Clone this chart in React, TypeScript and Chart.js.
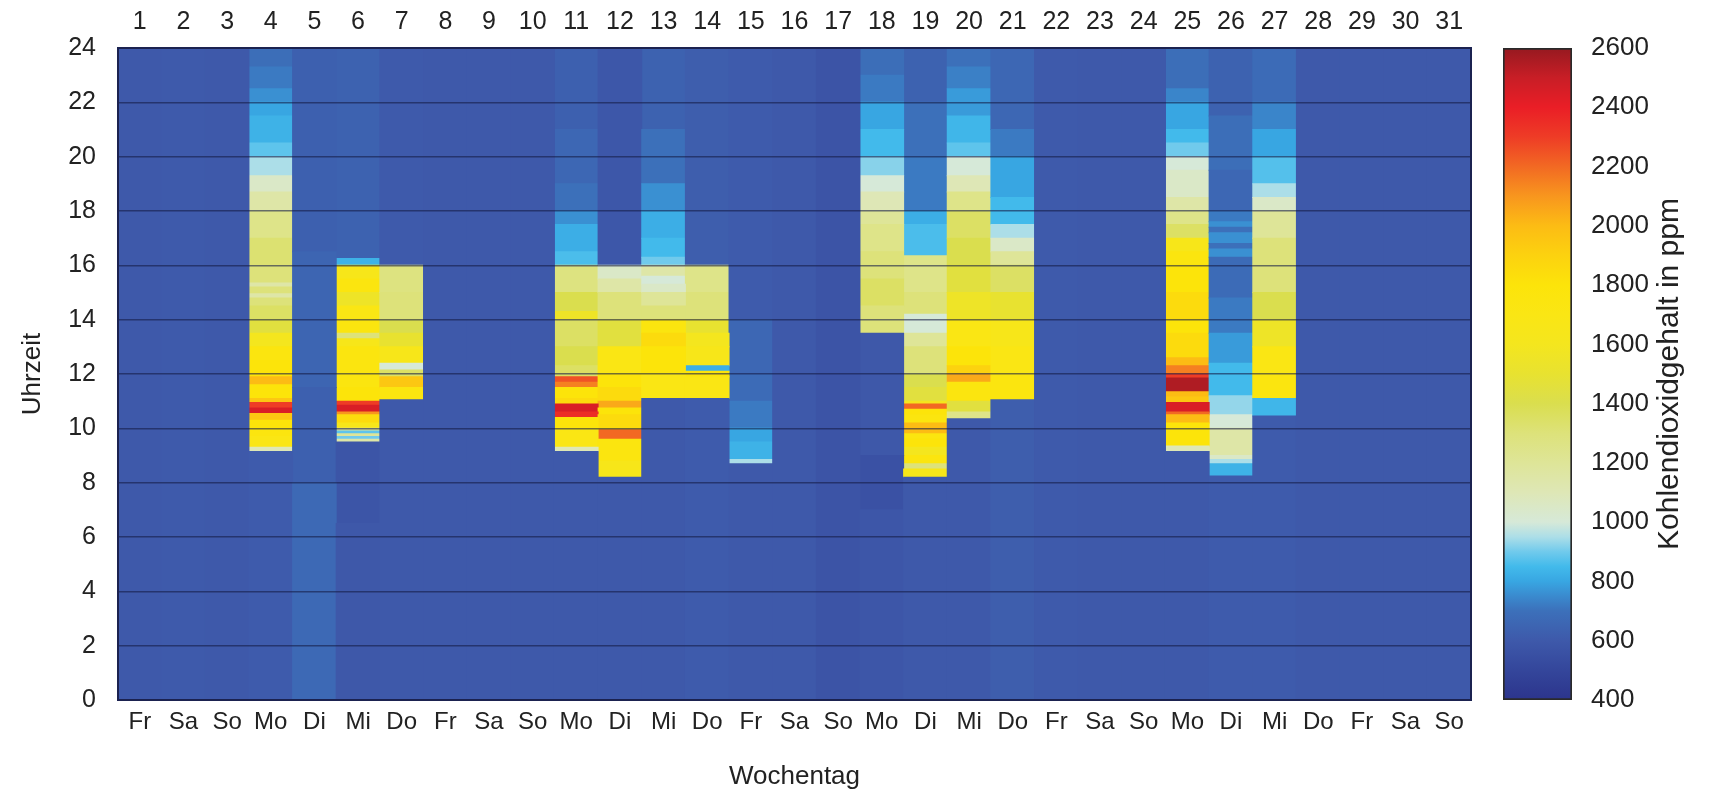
import React, { useEffect, useRef } from "react";
import { Chart, registerables } from "chart.js";

Chart.register(...registerables);

// ---------- DATA ----------
const DAY_NUMBERS = ["1","2","3","4","5","6","7","8","9","10","11","12","13","14","15","16","17","18","19","20","21","22","23","24","25","26","27","28","29","30","31"];
const WEEKDAYS = ["Fr","Sa","So","Mo","Di","Mi","Do","Fr","Sa","So","Mo","Di","Mi","Do","Fr","Sa","So","Mo","Di","Mi","Do","Fr","Sa","So","Mo","Di","Mi","Do","Fr","Sa","So"];
const HOUR_TICKS = [0, 2, 4, 6, 8, 10, 12, 14, 16, 18, 20, 22, 24];
const PPM_TICKS = [400, 600, 800, 1000, 1200, 1400, 1600, 1800, 2000, 2200, 2400, 2600];

// Each day: list of [untilHour, ppm]; the value holds from the previous boundary (or 0 h) up to untilHour.
const DAY_01 = [[24, 600]];
const DAY_02 = [[24, 605]];
const DAY_03 = [[24, 600]];
const DAY_04 = [[9.15, 610],[9.3, 1100],[9.7, 1700],[10.0, 1750],[10.3, 1800],[10.55, 1950],[10.75, 2450],[10.95, 2300],[11.1, 1950],[11.6, 1800],[11.9, 2000],[12.5, 1800],[13.0, 1750],[13.5, 1600],[14.0, 1450],[14.5, 1350],[14.8, 1300],[14.95, 1150],[15.2, 1300],[15.35, 1150],[16.0, 1300],[17.0, 1320],[18.0, 1250],[18.7, 1150],[19.3, 1050],[20.0, 950],[20.5, 880],[21.5, 830],[22.0, 800],[22.5, 760],[23.3, 720],[24, 690]];
const DAY_05 = [[8, 670],[11.5, 630],[16.5, 650],[24, 630]];
const DAY_06 = [[6.5, 595],[9.5, 580],[9.6, 1150],[9.7, 900],[9.8, 1200],[9.9, 880],[10.0, 1200],[10.2, 1650],[10.5, 1850],[10.6, 2100],[10.85, 2450],[11.0, 2300],[11.5, 1800],[12.0, 1750],[13.0, 1750],[13.3, 1650],[13.5, 1300],[14.0, 1750],[14.5, 1700],[15.0, 1550],[15.5, 1750],[16.0, 1650],[16.25, 830],[24, 640]];
const DAY_07 = [[11.05, 600],[11.5, 1750],[11.9, 1950],[12.15, 1350],[12.4, 1000],[13.0, 1650],[13.5, 1500],[14.0, 1400],[15.0, 1300],[16.0, 1280],[24, 605]];
const DAY_08 = [[24, 600]];
const DAY_09 = [[24, 600]];
const DAY_10 = [[24, 600]];
const DAY_11 = [[9.15, 600],[9.3, 1100],[10.0, 1700],[10.4, 1800],[10.6, 2350],[10.9, 2450],[11.1, 1850],[11.5, 1800],[11.7, 2150],[11.9, 2250],[12.3, 1350],[13.0, 1400],[14.0, 1350],[14.3, 1550],[15.0, 1400],[16.0, 1280],[16.5, 860],[17.5, 820],[18.0, 760],[19.0, 700],[21.0, 660],[24, 630]];
const DAY_12 = [[8.2, 600],[8.8, 1650],[9.6, 1750],[9.95, 2200],[10.5, 1850],[10.75, 1800],[11.0, 2050],[11.5, 1850],[12.0, 1800],[13.0, 1700],[14.0, 1450],[15.0, 1300],[15.5, 1150],[16.0, 1050],[24, 590]];
const DAY_13 = [[11.1, 600],[12.0, 1700],[13.0, 1800],[13.5, 1850],[14.0, 1750],[14.5, 1300],[15.0, 1200],[15.3, 1050],[15.6, 1000],[16.0, 1150],[16.3, 900],[17.0, 850],[18.0, 820],[19.0, 760],[21.0, 700],[24, 640]];
const DAY_14 = [[11.1, 610],[11.9, 1700],[12.1, 1800],[12.3, 820],[13.0, 1650],[13.5, 1600],[14.0, 1500],[15.0, 1300],[16.0, 1250],[24, 620]];
const DAY_15 = [[8.7, 600],[8.85, 950],[9.5, 830],[10.0, 800],[11.0, 720],[12.0, 680],[14.0, 660],[24, 610]];
const DAY_16 = [[24, 600]];
const DAY_17 = [[24, 575]];
const DAY_18 = [[7, 585],[9, 560],[13.5, 595],[14.5, 1300],[15.5, 1350],[16.5, 1300],[17.5, 1250],[18.0, 1200],[18.7, 1100],[19.3, 1000],[20.0, 920],[21.0, 850],[22.0, 800],[23.0, 720],[24, 690]];
const DAY_19 = [[8.2, 600],[8.5, 1650],[8.7, 1300],[9.0, 1750],[9.3, 1600],[9.6, 1800],[9.8, 1750],[10.2, 2000],[10.5, 1750],[10.7, 1800],[10.9, 2200],[11.0, 1600],[11.5, 1450],[12.0, 1400],[13.0, 1300],[13.5, 1200],[14.2, 1000],[15.0, 1300],[16.35, 1250],[17.5, 860],[18.0, 820],[20.0, 720],[22.0, 700],[24, 640]];
const DAY_20 = [[10.35, 600],[10.6, 1250],[11.0, 1450],[11.7, 1750],[12.0, 2050],[12.3, 1900],[13.0, 1800],[14.0, 1700],[15.0, 1550],[16.0, 1450],[17.0, 1400],[18.0, 1350],[18.7, 1250],[19.3, 1100],[20.0, 1000],[20.5, 880],[21.5, 840],[22.5, 780],[23.3, 730],[24, 700]];
const DAY_21 = [[11.05, 620],[12.0, 1750],[13.0, 1700],[14.0, 1650],[15.0, 1500],[16.0, 1350],[16.5, 1200],[17.0, 1050],[17.5, 950],[18.5, 850],[20.0, 800],[21.0, 720],[24, 660]];
const DAY_22 = [[24, 605]];
const DAY_23 = [[24, 600]];
const DAY_24 = [[24, 600]];
const DAY_25 = [[9.15, 600],[9.35, 1100],[10.2, 1800],[10.5, 2000],[10.6, 2200],[10.95, 2450],[11.15, 1950],[11.35, 2000],[11.85, 2550],[12.0, 2300],[12.3, 2150],[12.6, 2000],[13.5, 1850],[14.0, 1800],[15.0, 1850],[16.0, 1800],[16.5, 1750],[17.0, 1650],[17.5, 1350],[18.0, 1250],[18.5, 1150],[19.0, 1050],[19.5, 1050],[20.0, 1000],[20.5, 900],[21.0, 850],[22.0, 800],[22.5, 740],[24, 690]];
const DAY_26 = [[8.25, 610],[8.7, 830],[8.85, 950],[9.0, 1050],[10.0, 1150],[10.5, 1000],[11.2, 930],[12.4, 850],[13.5, 780],[14.8, 720],[16.3, 680],[16.6, 760],[16.8, 700],[17.2, 760],[17.4, 700],[17.6, 760],[18.0, 720],[19.5, 660],[21.5, 690],[24, 640]];
const DAY_27 = [[10.45, 610],[11.1, 840],[12.0, 1750],[13.0, 1700],[14.0, 1550],[15.0, 1400],[16.0, 1300],[17.0, 1300],[18.0, 1200],[18.5, 1050],[19.0, 950],[20.0, 870],[21.0, 800],[22.0, 740],[24, 680]];
const DAY_28 = [[24, 600]];
const DAY_29 = [[24, 600]];
const DAY_30 = [[24, 600]];
const DAY_31 = [[24, 600]];

const DAY_PROFILES = [DAY_01, DAY_02, DAY_03, DAY_04, DAY_05, DAY_06, DAY_07, DAY_08, DAY_09, DAY_10,
  DAY_11, DAY_12, DAY_13, DAY_14, DAY_15, DAY_16, DAY_17, DAY_18, DAY_19, DAY_20,
  DAY_21, DAY_22, DAY_23, DAY_24, DAY_25, DAY_26, DAY_27, DAY_28, DAY_29, DAY_30, DAY_31];

// colour scale [ppm, r, g, b]
const COLOR_STOPS = [
  [400, 44, 52, 140], [500, 52, 70, 155], [600, 62, 89, 170], [700, 60, 112, 186],
  [750, 58, 138, 206], [800, 56, 166, 226], [850, 66, 186, 235], [900, 112, 202, 236],
  [950, 172, 222, 232], [1000, 214, 233, 216], [1100, 222, 231, 182], [1200, 222, 229, 152],
  [1300, 221, 226, 122], [1400, 218, 222, 78], [1500, 232, 226, 48], [1600, 244, 230, 30],
  [1700, 250, 230, 20], [1800, 252, 228, 10], [1900, 252, 210, 15], [2000, 252, 188, 20],
  [2100, 248, 150, 30], [2200, 242, 105, 35], [2300, 238, 60, 38], [2400, 234, 30, 38],
  [2500, 200, 30, 38], [2600, 150, 25, 32],
];
const PPM_MIN = 400;
const PPM_MAX = 2600;

function colorFor(v: number): string {
  if (v <= COLOR_STOPS[0][0]) { const s = COLOR_STOPS[0]; return `rgb(${s[1]},${s[2]},${s[3]})`; }
  for (let i = 1; i < COLOR_STOPS.length; i++) {
    const a = COLOR_STOPS[i - 1], b = COLOR_STOPS[i];
    if (v <= b[0]) {
      const t = (v - a[0]) / (b[0] - a[0]);
      const r = Math.round(a[1] + (b[1] - a[1]) * t);
      const g = Math.round(a[2] + (b[2] - a[2]) * t);
      const bl = Math.round(a[3] + (b[3] - a[3]) * t);
      return `rgb(${r},${g},${bl})`;
    }
  }
  const s = COLOR_STOPS[COLOR_STOPS.length - 1];
  return `rgb(${s[1]},${s[2]},${s[3]})`;
}

const FONT = "'Liberation Sans', Arial, Helvetica, sans-serif";
const TEXT_COLOR = "#222222";
const FRAME_COLOR = "#1b2250";

const W_MAIN = 1480;
const H = 792;
const W_CB = 231;

export default function App() {
  const mainRef = useRef<HTMLCanvasElement | null>(null);
  const cbRef = useRef<HTMLCanvasElement | null>(null);

  useEffect(() => {
    if (!mainRef.current || !cbRef.current) return;

    const maxSeg = Math.max(...DAY_PROFILES.map((p) => p.length));
    const datasets: any[] = [];
    for (let k = 0; k < maxSeg; k++) {
      const data = DAY_PROFILES.map((p) => {
        if (k >= p.length) return null;
        const from = k === 0 ? 0 : p[k - 1][0];
        return [from, p[k][0]];
      });
      const colors = DAY_PROFILES.map((p) => (k < p.length ? colorFor(p[k][1]) : "rgba(0,0,0,0)"));
      datasets.push({
        data,
        backgroundColor: colors,
        borderWidth: 0,
        grouped: false,
        barPercentage: 1,
        categoryPercentage: 1,
        inflateAmount: 0.5,
        xAxisID: "x",
        yAxisID: "y",
      });
    }

    const main = new Chart(mainRef.current, {
      type: "bar",
      data: { labels: WEEKDAYS, datasets },
      options: {
        animation: false,
        responsive: false,
        devicePixelRatio: 1,
        layout: { padding: 0 },
        plugins: { legend: { display: false }, tooltip: { enabled: false } },
        scales: {
          x: {
            type: "category",
            position: "bottom",
            offset: true,
            grid: { display: false, drawTicks: false },
            border: { display: true, color: FRAME_COLOR, width: 2, z: 2 },
            ticks: { color: TEXT_COLOR, font: { family: FONT, size: 24 }, padding: 8, maxRotation: 0, autoSkip: false },
            title: { display: true, text: "Wochentag", color: TEXT_COLOR, font: { family: FONT, size: 26 }, padding: { top: 0, bottom: 0 } },
            afterFit: (s: any) => { s.height = 92; },
          },
          x2: {
            type: "category",
            labels: DAY_NUMBERS,
            position: "top",
            offset: true,
            grid: { display: false, drawTicks: false },
            border: { display: true, color: FRAME_COLOR, width: 2, z: 2 },
            ticks: { color: TEXT_COLOR, font: { family: FONT, size: 25 }, padding: 11, maxRotation: 0, autoSkip: false },
            afterFit: (s: any) => { s.height = 48; },
          },
          y: {
            type: "linear",
            position: "left",
            min: 0,
            max: 24,
            afterBuildTicks: (s: any) => { s.ticks = HOUR_TICKS.map((v) => ({ value: v })); },
            grid: { display: true, drawTicks: false, color: "rgba(22,28,70,0.6)", lineWidth: 1.5, z: 1 },
            border: { display: true, color: FRAME_COLOR, width: 2, z: 2 },
            ticks: { color: TEXT_COLOR, font: { family: FONT, size: 25 }, padding: 22 },
            title: { display: true, text: "Uhrzeit", color: TEXT_COLOR, font: { family: FONT, size: 26 }, padding: { top: 17, bottom: 0 } },
            afterFit: (s: any) => { s.width = 118; },
          },
          y2: {
            type: "linear",
            position: "right",
            min: 0,
            max: 24,
            grid: { display: false, drawTicks: false },
            border: { display: true, color: FRAME_COLOR, width: 2, z: 2 },
            ticks: { display: false },
            afterFit: (s: any) => { s.width = W_MAIN - 1471; },
          },
        },
      },
    });

    const cbTitle = {
      id: "cbTitle",
      afterDraw(chart: any) {
        const ys = chart.scales.y;
        const ctx = chart.ctx;
        ctx.save();
        ctx.translate(ys.right - 41, (chart.chartArea.top + chart.chartArea.bottom) / 2);
        ctx.rotate(-Math.PI / 2);
        ctx.fillStyle = TEXT_COLOR;
        ctx.font = `30px ${FONT}`;
        ctx.textAlign = "center";
        ctx.textBaseline = "middle";
        ctx.fillText("Kohlendioxidgehalt in ppm", 0, 0);
        ctx.restore();
      },
    };

    const cb = new Chart(cbRef.current, {
      type: "bar",
      data: {
        labels: [""],
        datasets: [
          {
            data: [[PPM_MIN, PPM_MAX]] as any,
            barPercentage: 1,
            categoryPercentage: 1,
            borderWidth: 2,
            borderColor: "#2a2a2a",
            borderSkipped: false,
            backgroundColor: (c: any) => {
              const chart = c.chart;
              const ys = chart.scales && chart.scales.y;
              if (!chart.chartArea || !ys) return colorFor(1000);
              const y0 = ys.getPixelForValue(PPM_MIN);
              const y1 = ys.getPixelForValue(PPM_MAX);
              const g = chart.ctx.createLinearGradient(0, y0, 0, y1);
              COLOR_STOPS.forEach((s) => {
                g.addColorStop((s[0] - PPM_MIN) / (PPM_MAX - PPM_MIN), `rgb(${s[1]},${s[2]},${s[3]})`);
              });
              return g;
            },
          },
        ],
      },
      options: {
        animation: false,
        responsive: false,
        devicePixelRatio: 1,
        layout: { padding: { left: 23, top: 48, bottom: 92, right: 0 } },
        plugins: { legend: { display: false }, tooltip: { enabled: false } },
        scales: {
          x: { display: false, offset: true },
          y: {
            type: "linear",
            position: "right",
            min: PPM_MIN,
            max: PPM_MAX,
            afterBuildTicks: (s: any) => { s.ticks = PPM_TICKS.map((v) => ({ value: v })); },
            grid: { display: false, drawTicks: false },
            border: { display: false },
            ticks: { color: TEXT_COLOR, font: { family: FONT, size: 26 }, padding: 19, callback: (v: any) => String(v) },
            afterFit: (s: any) => { s.width = W_CB - 92; },
          },
        },
      },
      plugins: [cbTitle],
    });

    return () => {
      main.destroy();
      cb.destroy();
    };
  }, []);

  return (
    <div style={{ position: "absolute", left: 0, top: 0, width: 1711, height: H, background: "#ffffff" }}>
      <canvas
        ref={mainRef}
        width={W_MAIN}
        height={H}
        style={{ position: "absolute", left: 0, top: 0, width: W_MAIN, height: H }}
      />
      <canvas
        ref={cbRef}
        width={W_CB}
        height={H}
        style={{ position: "absolute", left: W_MAIN, top: 0, width: W_CB, height: H }}
      />
    </div>
  );
}
